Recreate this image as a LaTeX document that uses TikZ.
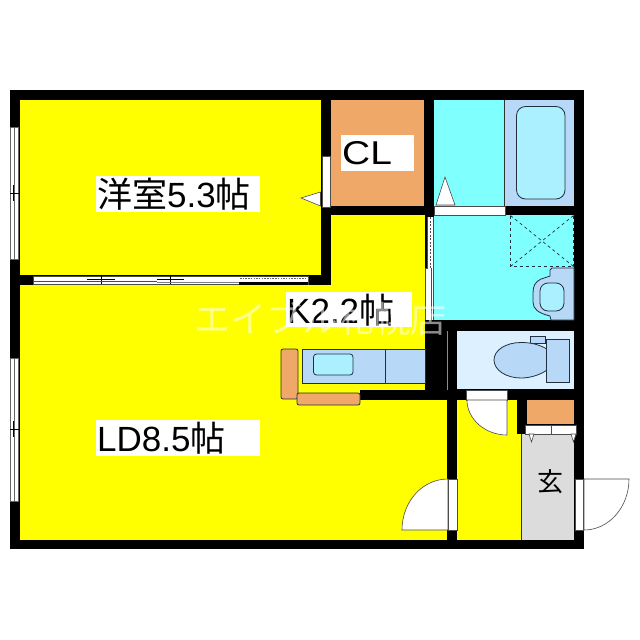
\documentclass[tikz,border=0pt]{standalone}
\usepackage{fontspec}
\setmainfont{Liberation Sans}
\newfontfamily\cjk{Noto Sans CJK JP}
\definecolor{ylw}{HTML}{FFFF00}
\definecolor{cyn}{HTML}{80FFFF}
\definecolor{blu}{HTML}{B8D8F8}
\definecolor{tub}{HTML}{AAF0FF}
\definecolor{pale}{HTML}{DDF0FF}
\definecolor{org}{HTML}{F0A868}
\definecolor{gry}{HTML}{DCDCDC}
\definecolor{ln}{HTML}{203040}
\tikzset{
  wall/.style={fill=black,draw=none},
  part/.style={draw=ln,line width=0.8pt},
  door/.style={fill=white,draw=black!70,line width=0.6pt},
  lbl/.style={inner sep=0pt,text=black,font=\fontsize{35}{35}\selectfont,anchor=west},
  thin/.style={draw=black!80,line width=0.5pt}
}
\begin{document}
\begin{tikzpicture}[x=1pt,y=-1pt]
\useasboundingbox (0,0) rectangle (640,640);
\fill[white] (0,0) rectangle (640,640);
% outer wall
\fill[wall] (10,90) rectangle (584,549);
% rooms
\fill[ylw] (20,100) rectangle (321,275);
\fill[ylw] (20,285) rectangle (447,540);
\fill[ylw] (331,215) rectangle (425,400);
\fill[ylw] (321,285) rectangle (425,390);
\fill[org] (331,100) rectangle (424,206);
\fill[cyn] (434,100) rectangle (504,206);
\fill[blu] (504,100) rectangle (574,206);
\draw[thin] (504,100) -- (504,206);
\fill[cyn] (434,215) rectangle (574,320);
\fill[pale] (457,331) rectangle (574,389);
\fill[ylw] (457,400) rectangle (517,540);
\fill[ylw] (517,434) rectangle (521,540);
\fill[org] (527,400) rectangle (574,424);
\fill[gry] (521,434) rectangle (574,540);
\draw[thin] (521,434) -- (521,540);
% walls inside the K block
\fill[wall] (321,100) rectangle (331,285);
\fill[wall] (331,206) rectangle (434,215);
\fill[wall] (424,90) rectangle (434,215);
\fill[wall] (425,320) rectangle (584,331);
\fill[wall] (425,320) rectangle (457,400);
\fill[wall] (360,390) rectangle (457,400);
\fill[wall] (447,400) rectangle (457,540);
\fill[wall] (457,389) rectangle (574,400);
\fill[wall] (517,400) rectangle (527,434);
\draw[black!45,line width=0.7pt] (447,331) -- (447,390);
% bath tub
\draw[part,fill=tub,rounded corners=9pt] (516.5,106.5) rectangle (565,199);
\draw[door] (434,206) rectangle (505,215);
\draw[door] (445,177) -- (436,205) -- (455,205) -- cycle;
% shower pan
\draw[dashed,line width=0.7pt,draw=ln] (510.5,215.5) -- (510.5,266.5) -- (573.5,266.5) -- (573.5,215.5);
\draw[dashed,line width=0.7pt,draw=ln] (510.5,215.5) -- (573.5,266.5) (573.5,215.5) -- (510.5,266.5);
% basin
\draw[part,fill=blu] (574,268) -- (552,268) -- (550,270) -- (550,276) -- (541,279) .. controls (535,282) and (533,286) .. (533,293) -- (533,302) .. controls (533,309) and (538,313) .. (550,316) -- (551,320) -- (574,320) -- cycle;
\draw[part,fill=tub,rounded corners=8pt] (540,283) rectangle (564,311);
% toilet
\draw[part,fill=blu] (530,336) rectangle (545,343);
\draw[part,fill=blu] (547,349) .. controls (538,344) and (530,342.5) .. (521,342.5) .. controls (506,342.5) and (494,350) .. (494,360) .. controls (494,370) and (506,378) .. (521,378) .. controls (530,378) and (540,375) .. (547,370);
\draw[part,fill=blu] (546,339) rectangle (569,382);
% kitchen
\draw[part,fill=blu] (302,349) rectangle (425,383);
\draw[part] (385,349) -- (385,383);
\draw[part,fill=tub,rounded corners=3pt] (313.5,354) rectangle (353,375);
\draw[part,fill=org,rounded corners=2pt] (281,349) rectangle (298,399);
\draw[part,fill=org,rounded corners=2pt] (297,393) rectangle (360,405);
% windows left
\foreach \a/\b/\c in {127/259/193,358/501/429}{
  \fill[white] (10,\a) rectangle (19,\b);
  \draw[black!60,line width=0.6pt] (10.5,\a) rectangle (18.5,\b);
  \draw[black!60,line width=0.6pt] (14,\a) -- (14,\b);
  \draw[black,line width=0.5pt] (10,\c) -- (19,\c);
  \draw[black,line width=0.5pt] (13,\c-8) -- (13,\c+8);
}
% sliding doors LD / bedroom
\draw[door] (33,276) rectangle (308,284);
\fill[black] (239,282) rectangle (308,284.5);
\draw[dashed,dash pattern=on 1.5pt off 1.2pt,black!60,line width=1pt] (240,278.5) -- (308,278.5);
\draw[black,line width=0.6pt] (101,276) -- (101,284) (170,276) -- (170,284);
\draw[black,line width=0.6pt] (87,279) -- (115,279) (157,279) -- (184,279);
\draw[black!50,line width=1pt] (157,282) -- (239,282);
\draw[black!70,line width=0.6pt] (33,281) -- (157,281);
% door to the right of the bedroom
\draw[door] (322,156.5) rectangle (330,207);
\draw[door] (301,198) -- (320.5,192) -- (320.5,206) -- cycle;
% sliding door to wash room
\fill[white] (427,217) rectangle (433,320);
\fill[white] (425,268) rectangle (431,320);
\draw[black!70,line width=0.5pt] (427,217) -- (427,268) -- (425,268) -- (425,320) (433,217) -- (433,320);
\draw[dashed,dash pattern=on 2pt off 1.5pt,black!70,line width=0.8pt] (430,217) -- (430,268);
\draw[black!70,line width=0.5pt] (431,268) -- (431,320);
% WC door
\draw[door] (466,390) rectangle (507,400);
\draw[door] (467,400) .. controls (467,419) and (485,435) .. (507,435) -- (507,400) -- cycle;
% LD door
\draw[door] (448,479) .. controls (422,479) and (402,502) .. (402,530) -- (448,530) -- cycle;
\draw[door] (448,479) rectangle (457,530);
% entrance door
\draw[door] (584,479) -- (629,479) .. controls (629,507) and (609,530) .. (584,530) -- cycle;
\draw[door] (575,479) rectangle (583.5,530);
% cupboard doors
\draw[door] (525,425) rectangle (576,434);
\draw[door] (551,425) -- (551,434);
\draw[door] (529,434) -- (534,434) -- (531.5,442) -- cycle;
\draw[door] (571,434) -- (576,434) -- (573.5,442) -- cycle;
% labels
\fill[white] (96,176) rectangle (260,212);
\node[lbl] (bed) at (97,194) {{\cjk 洋室}5.3{\cjk 帖}};
\fill[white] (96,420) rectangle (260,456);
\node[lbl] (ld) at (97,438) {LD8.5{\cjk 帖}};
\fill[white] (341,135) rectangle (414,171);
\node[lbl,font=\fontsize{33}{33}\selectfont] (cl) at (342,153) {\scalebox{1.18}[1]{CL}};
\fill[white] (286,292) rectangle (412,327);
\node[lbl] (k) at (287,310) {K2.2{\cjk 帖}};
\node[lbl,font=\fontsize{26}{26}\selectfont] (gk) at (537,482) {\cjk 玄};
% watermark
\node[anchor=west,text=white,opacity=0.55,inner sep=0pt,font=\cjk\fontsize{36}{36}\selectfont] (wm) at (194,319) {エイブル札幌店};
\end{tikzpicture}
\end{document}
